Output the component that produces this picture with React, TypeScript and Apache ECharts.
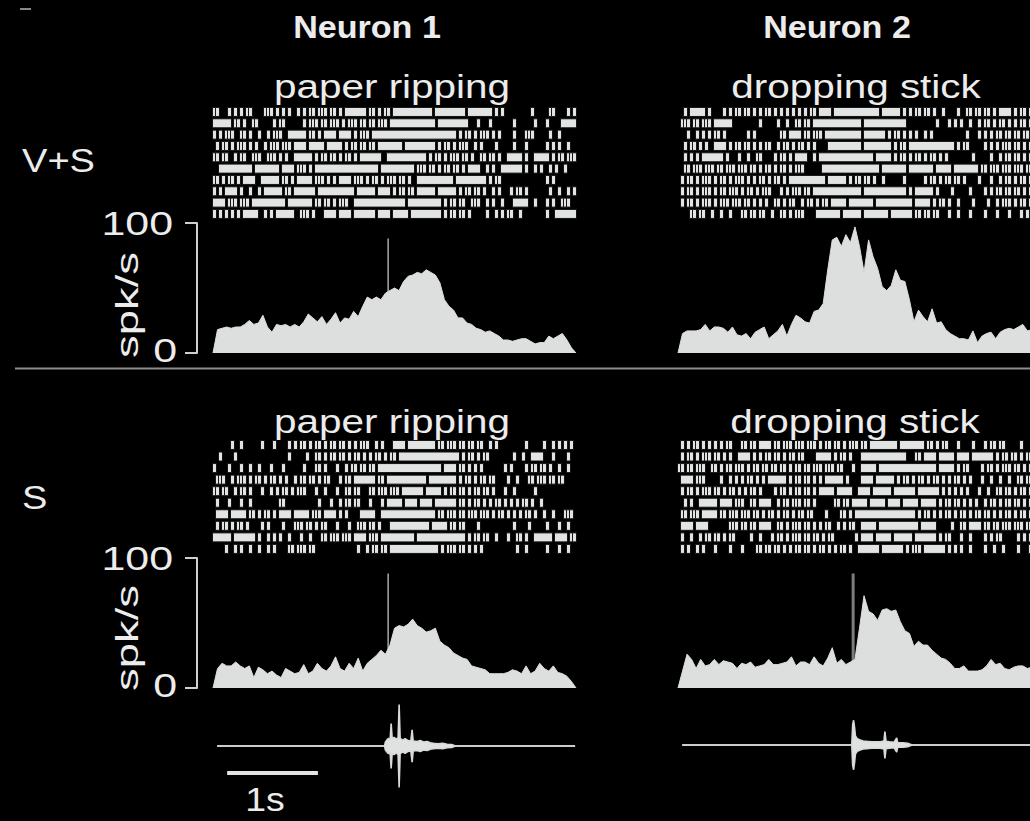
import React, { useEffect, useRef } from 'react';
import * as echarts from 'echarts';

// ---- time axis (seconds relative to sound onset) ----
const T_MIN = -1.93;
const T_MAX = 2.07;
const PSTH_STEP = 0.05;
const RASTER_BINS = 121;

// ---- PSTH firing rates (spk/s), one value per 50 ms step from T_MIN ----
const psthN1VS = [0,18,19,20,19,20,20,22,25,22, 23,29,20,16,22,21,22,20,22,20, 24,30,27,24,28,22,26,31,23,27, 26,32,28,36,43,41,43,41,46,48, 50,48,55,59,60,62,61,64,62,60, 54,41,36,33,27,27,23,22,19,18, 16,17,15,13,10,10,9,10,11,11, 9,7,8,8,13,11,13,15,10,4, 0];
const psthN2VS = [0,15,17,17,17,18,22,17,20,20, 19,16,20,14,13,15,11,16,18,20, 11,14,17,22,13,22,29,27,24,23, 32,33,38,64,87,89,82,91,85,97, 82,62,87,74,65,51,48,52,64,56, 55,41,24,33,28,24,34,23,24,18, 15,13,11,11,10,17,8,13,15,16, 11,16,18,19,18,20,22,17,18,15, 0];
const psthN1S = [0,15,19,17,17,20,17,15,17,8, 16,14,11,13,10,8,15,13,11,12, 18,11,13,19,15,13,17,24,15,13, 19,15,23,13,19,22,25,29,26,33, 46,48,47,49,53,48,46,43,44,46, 36,33,31,27,25,23,22,17,16,15, 14,11,11,11,11,12,14,13,11,17, 11,13,19,15,13,17,12,11,9,5, 0];
const psthN2S = [0,13,26,22,15,22,17,18,22,18, 21,20,19,15,19,18,20,16,17,18, 22,18,18,19,20,24,17,20,20,18, 24,19,17,23,31,19,22,18,20,22, 46,71,59,57,52,60,61,59,60,51, 44,42,32,36,33,33,29,26,23,22, 19,15,15,17,13,13,13,14,17,22, 18,19,15,14,16,17,17,15,16,14, 0];

// ---- raster: 10 trials per panel, '|' = spike in a 33 ms bin ----
const rasterN1VS = [
  "||...|.|.| .||....||| .|.|.|..|. |.||.|||.| |.|.|||||| |.||.|.||. |||||||||| |||.|||||| ||||.||||| |||.|.|... ......|... ..||....|. |",
  "||||||.||. |..||..... |.||...... |.|||.||.| ||.|.|||.| |.||.|||.| |||||||||| ||||.||||| |||||...|. ..|....... |......|.. .|....|||| |",
  "|.|.|||..| |.|..|..|. |||..||||| |.||.|.||| |.||||.|.| ||.||||||| |||||||||| |||||||||| |.|.||.|.| ||.|.|.... |...|||... ..|..|.... .",
  ".|.||.|.|| |.|.|..|.| ||.|||.||| |.|||||.|| |||.|.||.| |.||.||||| |||.|||||| ||||.|.||. |.|||..|.| ....|..... |...|..... .|.|.|..|. .",
  "||.||..|.| |..|||..|| |.|.|..||| |||.|.||.| |.|.||.|.| ||||||..|| |||||||||| |.|.||.|.| ||.||.|..| |.||.|..|| |||.|..||| ||.|.||.|| |",
  "..|||||||| |||.|||||| ||.||||.|| |.|.|||||| |||||||||| |||||.|||| |||||||.|| |.||.|.||. ||.|.||||. .|.|..|||| |||.|..|.| ..|.|..|.. .",
  "||.|.||.|. ||||..|||| ||.||.|.|| |||.|||.|. |.||||.||| .|.||.|.|| |.||.|..|| |||||||||| .||||||||| |.|.||.... .......... .|.|...... .",
  "|.|.||||.| ..|..|.||| |||.||.||| ||||.||||| |||||||.|| ||||.||||. |.||.||.|| ||||.||||| |.|.||.||. |..|.|...| .||.|..... ..|..|..|. |",
  "||||.|||.| ||.||||||| ||||.||||| |||.||.||. |.|||..||| |||||||||| ||||.||||| ||||||.|.| |.||..|||. .|.|..|... |||||..|.. .|.|..|||. .",
  "|.|.|.|.|. |||||..|.| .||||||..| ||.|...||| |.||||.||| ||||.||||. |||||.|||| ||||||.|.| |.||.|.... .|..|.|.|| ..|....... .|..|||||| |",
];
const rasterN2VS = [
  "..|.|||||. |....|.|.| |.||.|.|.| |.|.|.|.|. |.|.||.||| |.|||||||| |||||||.|| ||||.|.|.| |.||.|..|. ...|..||.| |.||.|.||| |.|.||.|.| |",
  ".|||.||.|| |.||||||.. .......|.. ...|..|..| |.||.||||| |||||||||| |.|||||||| ||||||.... ......|... |.|.|..|.. |.||.|.||. |.|.||.|.| |",
  "...|..|.|. |.||.|.... ...|.|.... ....||.||| |.||.|||.| |||||||||| |.|||||||. |.||.|.|.| ..|.|..... ......|... |.|.|.||.| |.||.||.|| |",
  "..|.||.|.| ..||||.|.| |.||.|.|.| |..|.||.|. ||.|.|.... |||||||||| |.|||||||| |.|.||.||| |||||||||| ||.|.||... ..|.|.|.|| |.||.|.||. |",
  "..|.|.|.|| |||||.|... |..|..||.. ..|.||.|.| |||..|.||| |||||||||| |||||.|||| |.|.||.|.| |.|.||.|.| ........|. ....|..|.| |.||.|.||. |",
  "..||.|||.| ||.||.|||. |||.||.|.| |.|.||.|.| ||......|| |||||||||| |||||||.|| ||||||.||| |||||.|||| |.|||||||| .||.|||.|| |.|||.||.| |",
  ".|.||.|.|| |.|.||.|.| ||.|.|.||. |.||.|.||| |||||||||. ||||||.|.| |.||.|..|. .....|.... ..|.||.|.| |.||.|.... |...|..|.| |.|.||.|.| |",
  ".|.||.|.|| |.|.||.||| .|.||.|.|| |...|.|.|| |.||.||||| |||||||||| |.|||||||| ||||||.|.| |||||.|... .|.....|.. ..|.|.||.| |.||.|.||. |",
  ".|.||.|.|| |.|.|||.|| |.||.|.|.| ..||.|.||. .|.||.|.|| .|||||.||| |||||.|||| ||||||||.| ||||.|.||. |..|....|. ...|..|.|| |.|.||.|.| |",
  "....||.||. .|..|..|.. .||.||.||. .|..||.|.| ||....|||| ||||.||||| |.|||||||| .|||||||.| |.||.||... |..|...|.. ..|...|... |...|.|... .",
];
const rasterN1S = [
  "......|..| ......|... |....|.|.| |.|.||.|.| |.||.|.|.| ||..|.|... ||||.||||| ||||.||.|| |.||.||.|| ..|.|..... ....|..... |..|.|.|.| .",
  "..|....|.. .......... .....|.... .|..||.|.| |.||.|.||. |.|.||.|.| |.|||||||| |||||||||| ||.|.||.|. ||........ |..|..|||| ...|....|. .",
  "|....|...| ..|..|...| ...|...... |...||.|.. .|..|.||.| |.||.||||| |||||||||| ||||||.||| |.||.|.|.| .......|.| ....|.||.| |.|..|..|. .",
  ".|||..|.|| |.|.||.|.| |.|.|..|.| |.||.|.||. ..|.||.||| ||||.||.|| |||||||||| |.|||||||| |.|.||.|.| |.||....|. .|...||.|| |.||.||... .",
  "||.||..|.| |.|...|..| .|.||.|.|| |...|..|.. .|..||.||. ..||.|||.| ||.||||||| .|||||.|.| |.||.|.||. ||.|...|.. |......|.. .......... .",
  ".|...|...| ..|....... ..||...... .....|...| ..|.||.||. ..|...|.|| |||.||||.| |||.|||||| |.||.|.||. |.|.||.|.| .|.||.|..| .......... .",
  ".||||.|||| |.||.|.||. |.||||.||| ||.|||.||| |.|.|....| ||||..|||| |||||||||| ||||.||.|| |.||.|||.| ||.|.||.|. |.|.||.|.. |..|...||| .",
  ".|.||.|.|| .|....|.|. ...|...||| .||.|.||.. .|...|..|| |.||.|...| |||||||||| ||.|||||.| |.||....|. .......... |....|.... .|...|..|. .",
  "||||||.||| ||||.|..|. |.|..|...| ..|...||.| ||.|||.||| |.|||.|||| |||||||.|| |||||||||| ||||.|.||. ||..|...|. .||.|..||| |||.||||.| |",
  "....|..|.| ..|..|..|. |....||.|| |.||...... ........|. .|.||.||.| |||||||||| |||||.|.|| |.||.|.|.| .......... .|..|..... .|...|..|. .",
];
const rasterN2S = [
  ".|.|.||.|. |.|.|.||.. .||.||.||| |.||.|||.| ||.|||.|.| |.||.|.||| .||.|||||| |||.|||||| ||.||.|.|| ...|....|. ..|.||.||. ....|..... .",
  ".|.||.|.|| |.||.|.|.. ||||.|.|.| |.||.|.||. ||....|||| |.|.||.|.. .||||||||| ||||||...| |.||||.||| ||.||||.|| |||||.|.|| .||.|.||.. .",
  "||.||.|||. .||.|.||.| ||.|.||.|| .||.||.|.| |.||.|||.| ||.||...|. .|||||.||| |||||||||| ||||||.||| ||.|.||... .|.||.|.|| |.||.|.||| |",
  ".||||.|||. ....|..|.| .|.||.|.|. ||||||.|.| |.||.|.|.| |||||.|... .||||.|||| ||.|.||.|. ||.|.||.|. |.||.|.|.. .|..|..|.. |..||.||.. .",
  ".|.||.|.|| |.||.|.||. |.|.||.|.. ..|.||.|.| |.||.|.||| ||.|||||.. ||||.||||| |.|||||||. |||||||.|. |.|.|.|... |..|..||.| |.|.||.||| .",
  "..|.|..||| |||.||||.| ||..||.||| |..|.||.|| |.||.|.... ..||.||.|| |||.|||||. ||||.||||| .|||||.|.| |.||.|.|.| ..|.||.|.| |.||.|.|.| .",
  ".||.|||.|| |||.||.||| .|||.||.|. ||.|.||.|. ||.||....| ....||.|.| |||||||||| |||||||||. |.||.|.|.| |.|.||.|.| |.||.|.|.| |.|.||.|.| .",
  ".||||.|||| .......||| .||.||.||| |..||.|.|| |.||.|.|.| |..|.|.||. .|||||.||| |||||||||| .|||||.... .|..||.||| |.||.||.|| |.|||.||.| .",
  ".|..|..|.| |.||.|.||. ....|..|.. .|.||.|.|| |.||.||.|. ||.......| .||||.|||| |.||||||.| ||||||.|.| |...|..|.. ..|.|.||.. ...|.|.||. .",
  ".|.|..|.|. ..|....|.. .|....||.| |.||.|.|.| |.||.|.||. |.|.||.|.. |||||||.|| |||||.|.|| |.|||||||. |.|.|..|.. ..|..|..|. ...|...|.. .",
];

// ---- sound waveform envelopes: [time s, half-amplitude a.u.] ----
const waveN1 = [[-1.884,0],[-0.04,0],[-0.03,0.09],[-0.011,0.14],[0.005,0.17],[0.022,0.15],[0.033,0.5],[0.044,0.17],[0.066,0.19],[0.088,0.15],[0.11,0.19],[0.121,0.92],[0.132,0.17],[0.16,0.13],[0.187,0.16],[0.22,0.12],[0.25,0.11],[0.264,0.36],[0.276,0.11],[0.32,0.1],[0.353,0.12],[0.39,0.09],[0.43,0.1],[0.463,0.07],[0.5,0.06],[0.55,0.05],[0.6,0.06],[0.65,0.04],[0.7,0.035],[0.74,0],[2.06,0]];
const waveN2 = [[-1.884,0],[-0.015,0],[-0.005,0.45],[0.005,0.55],[0.015,0.4],[0.025,0.2],[0.045,0.14],[0.077,0.11],[0.11,0.09],[0.15,0.08],[0.2,0.07],[0.25,0.07],[0.3,0.07],[0.34,0.09],[0.35,0.3],[0.362,0.08],[0.4,0.07],[0.45,0.06],[0.48,0.16],[0.49,0.05],[0.55,0.05],[0.6,0.04],[0.65,0],[2.07,0]];

const SCALE_BAR = [[-1.774, -0.6], [-0.774, -0.6]];
const EVENT_LINE = [[0, 0], [0, 88]];

const FILL = '#dcdfdd';
const TEXT = '#ececec';

// runs of up to 3 spikes are drawn as separate ticks, longer runs as merged bursts
function rasterRuns(rows: string[]) {
  const bin = (T_MAX - T_MIN) / RASTER_BINS;
  const out: number[][] = [];
  rows.forEach((r, row) => {
    const s = r.replace(/ /g, '').padEnd(RASTER_BINS, '.').slice(0, RASTER_BINS);
    let i = 0;
    while (i < s.length) {
      if (s[i] === '|') {
        let j = i;
        while (j + 1 < s.length && s[j + 1] === '|') j++;
        if (j - i + 1 <= 3) {
          for (let k = i; k <= j; k++) out.push([T_MIN + k * bin, T_MIN + (k + 1) * bin, row + 0.5]);
        } else {
          out.push([T_MIN + i * bin, T_MIN + (j + 1) * bin, row + 0.5]);
        }
        i = j + 1;
      } else i++;
    }
  });
  return out;
}

const psthPoints = (arr: number[]) => arr.map((v, i) => [T_MIN + i * PSTH_STEP, v]);

export default function App() {
  const ref = useRef<HTMLDivElement>(null);
  useEffect(() => {
    document.body.style.margin = '0';
    document.body.style.background = '#000';
    const chart = echarts.init(ref.current!, null, { renderer: 'svg' });

    const grids: any[] = [];
    const xAxes: any[] = [];
    const yAxes: any[] = [];
    const series: any[] = [];
    const addGrid = (left: number, top: number, height: number, y: any) => {
      const idx = grids.length;
      grids.push({ left, top, width: 363, height, containLabel: false, outerBoundsMode: 'none' });
      xAxes.push({ gridIndex: idx, type: 'value', min: T_MIN, max: T_MAX, show: false });
      yAxes.push({ gridIndex: idx, ...y });
      return idx;
    };
    const rasterY = { type: 'value', min: 0, max: 10, inverse: true, show: false };
    const psthYShown = {
      type: 'value', min: 0, max: 100, interval: 100, position: 'left', offset: 16,
      axisLine: { show: true, onZero: false, lineStyle: { color: '#cfcfcf', width: 2 } },
      axisTick: { show: true, length: 12, lineStyle: { color: '#cfcfcf', width: 2 } },
      axisLabel: { show: false }, splitLine: { show: false },
    };
    const psthYHidden = { type: 'value', min: 0, max: 100, show: false };
    const waveY = { type: 'value', min: -1, max: 1, show: false };

    const addRaster = (g: number, rows: string[]) => {
      series.push({
        type: 'custom', xAxisIndex: g, yAxisIndex: g, encode: { x: [0, 1], y: 2 },
        data: rasterRuns(rows),
        renderItem: (params: any, api: any) => {
          const s = api.coord([api.value(0), api.value(2)]);
          const e = api.coord([api.value(1), api.value(2)]);
          const h = 9;
          return {
            type: 'rect',
            shape: { x: s[0] - 0.5, y: s[1] - h / 2, width: e[0] - s[0] + 1, height: h },
            style: { fill: '#e2e4e3', stroke: '#151515', lineWidth: 1 },
          };
        },
      });
    };
    const addPsth = (g: number, arr: number[], markColor: string, markWidth: number) => {
      series.push({
        type: 'line', xAxisIndex: g, yAxisIndex: g, data: EVENT_LINE, symbol: 'none', z: 1,
        lineStyle: { color: markColor, width: markWidth },
      });
      series.push({
        type: 'line', xAxisIndex: g, yAxisIndex: g, data: psthPoints(arr), symbol: 'none', z: 3,
        lineStyle: { color: FILL, width: 1 }, areaStyle: { color: FILL, opacity: 1 },
      });
    };
    const addWave = (g: number, env: number[][]) => {
      [1, -1].forEach((sign) => {
        series.push({
          type: 'line', xAxisIndex: g, yAxisIndex: g, symbol: 'none',
          data: env.map(([t, a]) => [t, sign * a]),
          lineStyle: { color: '#d8dad9', width: 1.6 }, areaStyle: { color: '#e0e2e1', opacity: 1 },
        });
      });
    };

    const gR1 = addGrid(213, 106.3, 113.3, rasterY);
    const gR2 = addGrid(678, 106.3, 113.3, rasterY);
    const gP1 = addGrid(213, 223, 130, psthYShown);
    const gP2 = addGrid(678, 223, 130, psthYHidden);
    const gR3 = addGrid(213, 439.2, 115.5, rasterY);
    const gR4 = addGrid(678, 439.2, 115.5, rasterY);
    const gP3 = addGrid(213, 558, 130, psthYShown);
    const gP4 = addGrid(678, 558, 130, psthYHidden);
    const gW1 = addGrid(213, 701, 90, waveY);
    const gW2 = addGrid(678, 700, 90, waveY);

    addRaster(gR1, rasterN1VS);
    addRaster(gR2, rasterN2VS);
    addRaster(gR3, rasterN1S);
    addRaster(gR4, rasterN2S);
    addPsth(gP1, psthN1VS, '#a8a8a8', 1.5);
    addPsth(gP2, psthN2VS, '#a8a8a8', 1.5);
    addPsth(gP3, psthN1S, '#a8a8a8', 1.5);
    addPsth(gP4, psthN2S, '#7c7c7c', 3);
    addWave(gW1, waveN1);
    addWave(gW2, waveN2);
    series.push({
      type: 'line', xAxisIndex: gW1, yAxisIndex: gW1, data: SCALE_BAR, symbol: 'none',
      lineStyle: { color: '#e3e3e3', width: 4, cap: 'butt' },
    });

    const txt = (text: string, x: number, y: number, size: number, o: any = {}) => ({
      type: 'text', x, y, scaleX: o.sx ?? 1, rotation: o.rot ?? 0, z: 100,
      style: {
        text, fill: TEXT,
        font: `${o.bold ? 'bold ' : ''}${size}px "Liberation Sans", Arial, sans-serif`,
        align: o.align ?? 'center', verticalAlign: 'middle',
      },
    });

    const graphic: any[] = [
      { type: 'rect', shape: { x: 20, y: 8, width: 11, height: 2 }, style: { fill: '#888' } },
      { type: 'line', shape: { x1: 15, y1: 368.5, x2: 1030, y2: 368.5 }, style: { stroke: '#8c8c8c', lineWidth: 2 } },
      txt('Neuron 1', 367, 28, 31, { bold: true, sx: 1.1 }),
      txt('Neuron 2', 837, 28, 31, { bold: true, sx: 1.1 }),
      txt('paper ripping', 392, 86, 34, { sx: 1.19 }),
      txt('dropping stick', 856, 86, 34, { sx: 1.19 }),
      txt('paper ripping', 392, 421, 34, { sx: 1.19 }),
      txt('dropping stick', 855, 421, 34, { sx: 1.19 }),
      txt('V+S', 22, 160, 34, { align: 'left', sx: 1.12 }),
      txt('S', 22, 497, 34, { align: 'left', sx: 1.12 }),
      txt('100', 173, 223, 33, { align: 'right', sx: 1.3 }),
      txt('0', 177, 350, 33, { align: 'right', sx: 1.3 }),
      txt('100', 173, 558, 33, { align: 'right', sx: 1.3 }),
      txt('0', 177, 685, 33, { align: 'right', sx: 1.3 }),
      txt('spk/s', 127, 305, 32, { rot: Math.PI / 2, sx: 1.42 }),
      txt('spk/s', 127, 638, 32, { rot: Math.PI / 2, sx: 1.42 }),
      txt('1s', 265, 800, 34, { sx: 1.1 }),
    ];

    chart.setOption({
      animation: false,
      backgroundColor: '#000',
      grid: grids,
      xAxis: xAxes,
      yAxis: yAxes,
      series,
      graphic,
    });
    return () => chart.dispose();
  }, []);
  return (
    <div
      ref={ref}
      style={{ position: 'fixed', left: 0, top: 0, width: 1030, height: 821, overflow: 'hidden', background: '#000' }}
    />
  );
}
